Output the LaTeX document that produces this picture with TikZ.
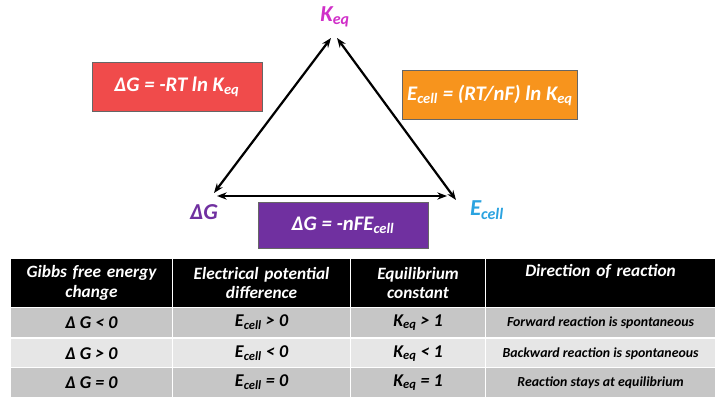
\documentclass[tikz,border=0pt]{standalone}
\usepackage{fontspec}
\setmainfont{Carlito}
\usetikzlibrary{arrows.meta}
\newcommand{\low}[1]{\textsubscript{#1}}
\definecolor{keqpink}{HTML}{D02FC8}
\definecolor{dgpurple}{HTML}{7030A0}
\definecolor{ecblue}{HTML}{2BA3E0}
\definecolor{redbox}{HTML}{F04B4B}
\definecolor{orangebox}{HTML}{F7941D}
\definecolor{rowdark}{HTML}{C6C6C6}
\definecolor{rowlight}{HTML}{E6E6E6}
\begin{document}
\begin{tikzpicture}[
        x=0.0254cm, y=-0.0254cm,
        every node/.style={font=\bfseries\itshape},
        vertex/.style={font=\fontsize{16.5}{18}\selectfont\bfseries\itshape},
        eqbox/.style={rectangle, draw=black!60, text=white, minimum width=170*0.0254cm, minimum height=49*0.0254cm, align=center, font=\fontsize{15}{17}\selectfont\bfseries\itshape},
        cell/.style={rectangle, draw=white, line width=0.8pt, anchor=north west, align=center, inner sep=1pt},
        head/.style={cell, fill=black, text=white, font=\fontsize{12.5}{14}\selectfont\bfseries\itshape},
        body/.style={cell, font=\fontsize{13}{14}\selectfont\bfseries\itshape},
        arrow/.style={{Stealth[length=7pt]}-{Stealth[length=7pt]}, line width=1.6pt}
    ]
    \useasboundingbox (0,0) rectangle (720,410);

    % Triangle vertices
    \node[vertex, text=keqpink] (keq) at (335,17) {K\low{eq}};
    \node[vertex, text=dgpurple] (dg) at (204,212) {ΔG};
    \node[vertex, text=ecblue] (ecell) at (487,210) {E\low{cell}};
    \coordinate (top-l) at (331,38);
    \coordinate (top-r) at (337,38);
    \coordinate (left-a) at (214,193);
    \coordinate (left-b) at (217,196);
    \coordinate (right-a) at (447,196);
    \coordinate (right-b) at (456,200);

    % Relation boxes
    \node[eqbox, fill=redbox] (gibbs) at (177,87) {ΔG = -RT ln K\low{eq}};
    \node[eqbox, fill=orangebox] (nernst) at (490,95) {E\low{cell} = (RT/nF) ln K\low{eq}};
    \node[eqbox, fill=dgpurple, minimum height=46*0.0254cm] (faraday) at (343,225) {ΔG = -nFE\low{cell}};

    % Arrows
    \draw[arrow] (top-l) -- (left-a);
    \draw[arrow] (top-r) -- (right-b);
    \draw[arrow] (left-b) -- (right-a);

    % Table header
    \node[head, minimum width=162*0.0254cm, minimum height=49*0.0254cm, text width=158*0.0254cm] (h1) at (10,258) {Gibbs free energy\\change};
    \node[head, minimum width=178*0.0254cm, minimum height=49*0.0254cm, text width=172*0.0254cm] (h2) at (172,258) {Electrical potential\\difference};
    \node[head, minimum width=135*0.0254cm, minimum height=49*0.0254cm, text width=130*0.0254cm] (h3) at (350,258) {Equilibrium\\constant};
    \node[head, minimum width=230*0.0254cm, minimum height=49*0.0254cm, text width=224*0.0254cm] (h4) at (485,258) {Direction of reaction\\\strut};

    % Table rows
    \foreach \y/\fillc/\g/\e/\k/\d in {
        307/rowdark/{Δ G < 0}/{E\low{cell} > 0}/{K\low{eq} > 1}/{Forward reaction is spontaneous},
        338/rowlight/{Δ G > 0}/{E\low{cell} < 0}/{K\low{eq} < 1}/{Backward reaction is spontaneous},
        367/rowdark/{Δ G = 0}/{E\low{cell} = 0}/{K\low{eq} = 1}/{Reaction stays at equilibrium}} {
        \node[body, fill=\fillc, minimum width=162*0.0254cm, minimum height=30*0.0254cm] (g-\y) at (10,\y) {\g};
        \node[body, fill=\fillc, minimum width=178*0.0254cm, minimum height=30*0.0254cm] (e-\y) at (172,\y) {\e};
        \node[body, fill=\fillc, minimum width=135*0.0254cm, minimum height=30*0.0254cm] (k-\y) at (350,\y) {\k};
        \node[body, fill=\fillc, minimum width=230*0.0254cm, minimum height=30*0.0254cm, font=\fontsize{10}{11}\selectfont\bfseries\itshape] (d-\y) at (485,\y) {\d};
    }

    \end{tikzpicture}
\end{document}
